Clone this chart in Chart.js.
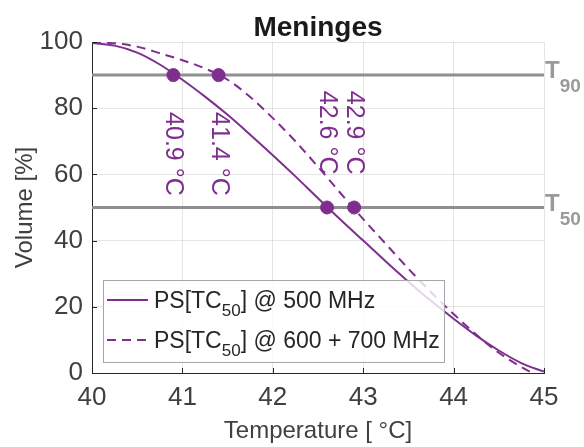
<!DOCTYPE html>
<html><head><meta charset="utf-8">
<script src="https://cdn.jsdelivr.net/npm/chart.js@4.4.0/dist/chart.umd.min.js"></script>
<style>html,body{margin:0;padding:0;background:#fff;}#wrap{width:584px;height:447px;}</style>
</head><body><div id="wrap"><canvas id="c" width="584" height="447"></canvas></div>
<script>
const titleText = 'Meninges';
const xTitle = 'Temperature [ °C]';
const yTitle = 'Volume [%]';
const xTicks = [40, 41, 42, 43, 44, 45];
const yTicks = [0, 20, 40, 60, 80, 100];

const temps500 = [40, 40.25, 40.5, 40.75, 41, 41.25, 41.5, 41.75, 42, 42.25, 42.5, 42.75, 43, 43.25, 43.5, 43.75, 44, 44.25, 44.5, 44.75, 45];
const vol500   = [99.7, 98.9, 96.8, 93.2, 88.6, 83.5, 78.0, 72.0, 65.8, 59.4, 52.8, 46.3, 40.0, 33.7, 27.6, 21.8, 16.4, 11.3, 6.8, 3.0, 0.4];
const temps600 = [40, 40.25, 40.5, 40.75, 41, 41.25, 41.5, 41.75, 42, 42.25, 42.5, 42.75, 43, 43.25, 43.5, 43.75, 44, 44.25, 44.5, 44.75, 44.85];
const vol600   = [99.9, 99.6, 98.6, 96.6, 94.5, 92.0, 88.6, 83.4, 77.0, 70.0, 62.3, 54.3, 46.5, 39.0, 31.5, 24.4, 17.8, 11.6, 6.1, 1.8, 0.3];

const markerTemps = [40.9, 41.4, 42.6, 42.9];
const markerVols = [90, 90, 50, 50];
const markerLabels = ['40.9 °C', '41.4 °C', '42.6 °C', '42.9 °C'];

const thresholdVols = [90, 50];
const thresholdSubs = ['90', '50'];

const legendMain = ['PS[TC', 'PS[TC'];
const legendSub = ['50', '50'];
const legendTail = ['] @ 500 MHz', '] @ 600 + 700 MHz'];

const PURPLE = '#7E2F8E';
const GRAY = '#8f8f8f';
const AXIS = '#262626';
const TXT = '#404040';
const FONT = "'Liberation Sans', Arial, Helvetica, sans-serif";

const pts = (xs, ys) => xs.map((x, i) => ({x: x, y: ys[i]}));

const thresholdSets = thresholdVols.map(v => ({
  data: [{x: xTicks[0], y: v}, {x: xTicks[xTicks.length - 1], y: v}],
  borderColor: GRAY, borderWidth: 3, pointRadius: 0, order: 5
}));

const annotPlugin = {
  id: 'annot',
  afterDatasetsDraw(chart) {
    const ctx = chart.ctx, xs = chart.scales.x, ys = chart.scales.y, ca = chart.chartArea;
    // inward ticks
    ctx.save();
    ctx.strokeStyle = AXIS; ctx.lineWidth = 1;
    xTicks.forEach(t => { const px = Math.round(xs.getPixelForValue(t)) + 0.5; ctx.beginPath(); ctx.moveTo(px, ca.bottom); ctx.lineTo(px, ca.bottom - 5); ctx.stroke(); });
    yTicks.forEach(t => { const py = Math.round(ys.getPixelForValue(t)) + 0.5; ctx.beginPath(); ctx.moveTo(ca.left, py); ctx.lineTo(ca.left + 5, py); ctx.stroke(); });
    ctx.restore();

    // rotated marker labels
    ctx.save();
    ctx.fillStyle = PURPLE;
    ctx.font = '25px ' + FONT;
    markerTemps.forEach((t, i) => {
      const px = xs.getPixelForValue(t), py = ys.getPixelForValue(markerVols[i]);
      ctx.save();
      ctx.translate(px, py);
      ctx.rotate(Math.PI / 2);
      ctx.textBaseline = 'middle';
      if (markerVols[i] > 70) { ctx.textAlign = 'left'; ctx.fillText(markerLabels[i], 37, 0); }
      else { ctx.textAlign = 'right'; ctx.fillText(markerLabels[i], -33, 0); }
      ctx.restore();
    });
    ctx.restore();

    // legend
    ctx.save();
    const lx = ca.left + 11, ly = 280, lw = 341, lh = 82;
    ctx.fillStyle = 'rgba(255,255,255,0.8)';
    ctx.fillRect(lx, ly, lw, lh);
    ctx.strokeStyle = '#a6a6a6'; ctx.lineWidth = 1;
    ctx.strokeRect(lx + 0.5, ly + 0.5, lw, lh);
    const dashes = [[], [9, 6]];
    for (let i = 0; i < 2; i++) {
      const rowY = ly + 20 + i * 40;
      ctx.strokeStyle = PURPLE; ctx.lineWidth = 2; ctx.setLineDash(dashes[i]);
      ctx.beginPath(); ctx.moveTo(lx + 4, rowY); ctx.lineTo(lx + 45, rowY); ctx.stroke();
      ctx.setLineDash([]);
      ctx.fillStyle = AXIS; ctx.textBaseline = 'alphabetic'; ctx.textAlign = 'left';
      let x = lx + 51;
      ctx.font = '23px ' + FONT;
      ctx.fillText(legendMain[i], x, rowY + 8); x += ctx.measureText(legendMain[i]).width;
      ctx.font = '17px ' + FONT;
      ctx.fillText(legendSub[i], x, rowY + 16); x += ctx.measureText(legendSub[i]).width;
      ctx.font = '23px ' + FONT;
      ctx.fillText(legendTail[i], x, rowY + 8);
    }
    ctx.restore();
  },
  afterDraw(chart) {
    const ctx = chart.ctx, ys = chart.scales.y, ca = chart.chartArea;
    ctx.save();
    // threshold labels
    ctx.fillStyle = '#9a9a9a';
    thresholdVols.forEach((v, i) => {
      const py = ys.getPixelForValue(v);
      ctx.textAlign = 'left'; ctx.textBaseline = 'alphabetic';
      ctx.font = 'bold 24px ' + FONT;
      ctx.fillText('T', ca.right + 1, py + 3);
      const w = ctx.measureText('T').width;
      ctx.font = 'bold 19px ' + FONT;
      ctx.fillText(thresholdSubs[i], ca.right + w + 1, py + 17);
    });
    // title
    ctx.fillStyle = '#1a1a1a';
    ctx.font = 'bold 28px ' + FONT;
    ctx.textAlign = 'center'; ctx.textBaseline = 'alphabetic';
    ctx.fillText(titleText, (ca.left + ca.right) / 2, 36);
    ctx.restore();
  }
};

new Chart(document.getElementById('c'), {
  type: 'line',
  data: {
    datasets: [
      { label: 'markers', type: 'scatter', data: pts(markerTemps, markerVols), backgroundColor: PURPLE, borderColor: PURPLE, pointRadius: 6.5, pointHoverRadius: 6.5, showLine: false, order: 0 },
      { label: legendMain[0] + legendSub[0] + legendTail[0], data: pts(temps500, vol500), borderColor: PURPLE, borderWidth: 2, pointRadius: 0, cubicInterpolationMode: 'monotone', order: 2 },
      { label: legendMain[1] + legendSub[1] + legendTail[1], data: pts(temps600, vol600), borderColor: PURPLE, borderWidth: 2, borderDash: [9, 6], pointRadius: 0, cubicInterpolationMode: 'monotone', order: 1 },
      ...thresholdSets
    ]
  },
  options: {
    responsive: false, animation: false, devicePixelRatio: 1,
    layout: { padding: { left: 0, right: 40, top: 42, bottom: 0 } },
    plugins: { legend: { display: false }, tooltip: { enabled: false }, title: { display: false } },
    scales: {
      x: {
        type: 'linear', min: xTicks[0], max: xTicks[xTicks.length - 1],
        afterBuildTicks: s => { s.ticks = xTicks.map(v => ({value: v})); },
        afterFit: s => { s.height = 74; },
        ticks: { color: TXT, font: { family: FONT, size: 26 }, padding: 9, maxRotation: 0 },
        grid: { color: 'rgba(38,38,38,0.12)', drawTicks: false },
        border: { color: AXIS, width: 1 },
        title: { display: true, text: xTitle, color: TXT, font: { family: FONT, size: 24 }, padding: { top: 0, bottom: 1 } }
      },
      y: {
        type: 'linear', min: yTicks[0], max: yTicks[yTicks.length - 1],
        afterBuildTicks: s => { s.ticks = yTicks.map(v => ({value: v})); },
        afterFit: s => { s.width = 92; },
        ticks: { color: TXT, font: { family: FONT, size: 26 }, padding: 9 },
        grid: { color: 'rgba(38,38,38,0.12)', drawTicks: false },
        border: { color: AXIS, width: 1 },
        title: { display: true, text: yTitle, color: TXT, font: { family: FONT, size: 24 }, padding: { top: 11, bottom: 0 } }
      }
    }
  },
  plugins: [annotPlugin]
});
</script></body></html>
